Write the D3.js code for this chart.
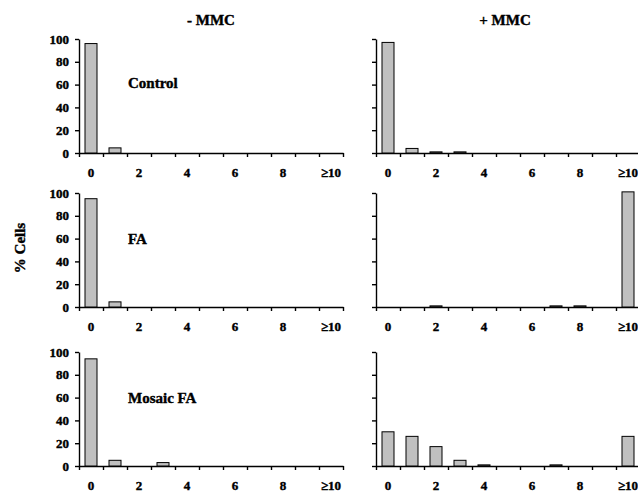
<!DOCTYPE html>
<html>
<head>
<meta charset="utf-8" />
<title>% Cells by aberrations, -MMC / +MMC</title>
<script src="https://cdn.jsdelivr.net/npm/d3@7"></script>
<style>
	body { margin: 0; background: #fff; }
	text { font-family: "Liberation Serif", "Times New Roman", serif; font-weight: bold; fill: #000; stroke: #000; stroke-width: 0.4; }
	.axis path, .axis line { stroke: #000; stroke-width: 1.4; }
	.bar { fill: #c0c0c0; stroke: #000; stroke-width: 1; }
</style>
</head>
<body>
<script>
// categorias del eje x
var categories = ["0", "1", "2", "3", "4", "5", "6", "7", "8", "9", "≥10"];
var tickLabels = ["0", "2", "4", "6", "8", "≥10"];
var yTicks = [0, 20, 40, 60, 80, 100];

var columnTitles = ["- MMC", "+ MMC"];
var rowLabels = ["Control", "FA", "Mosaic FA"];

// valores (% de celulas)
var controlMinus = [96, 4.5, 0, 0, 0, 0, 0, 0, 0, 0, 0];
var controlPlus  = [97, 4, 1, 1, 0, 0, 0, 0, 0, 0, 0];
var faMinus      = [95, 4.5, 0, 0, 0, 0, 0, 0, 0, 0, 0];
var faPlus       = [0, 0, 1, 0, 0, 0, 0, 1, 1, 0, 101];
var mosaicMinus  = [94, 5, 0, 3, 0, 0, 0, 0, 0, 0, 0];
var mosaicPlus   = [30, 26, 17, 5, 1, 0, 0, 1, 0, 0, 26];

var panels = [
	[controlMinus, controlPlus],
	[faMinus, faPlus],
	[mosaicMinus, mosaicPlus]
];

var svg = d3.select("body").append("svg")
	.attr("width", 638)
	.attr("height", 493);

var colX = [79, 376];
var rowY = [39, 193, 352];
var width = 264, height = 114;

// paso de 24px, barra centrada en cada intervalo
var x = d3.scaleBand().domain(categories).range([0, width])
	.paddingInner(0.5).paddingOuter(0.25);
var xEdges = d3.scaleLinear().domain([0, categories.length]).range([0, width]);
var y = d3.scaleLinear().domain([0, 100]).range([height, 0]);

// titulos de columna
columnTitles.forEach(function (t, c) {
	svg.append("text")
		.attr("x", c == 0 ? 211 : 505)
		.attr("y", 25)
		.attr("text-anchor", "middle")
		.style("font-size", "15px")
		.text(t);
});

// etiqueta eje y
svg.append("text")
	.attr("transform", "translate(25,248) rotate(-90)")
	.attr("text-anchor", "middle")
	.style("font-size", "15px")
	.text("% Cells");

panels.forEach(function (row, r) {
	row.forEach(function (values, c) {
		var g = svg.append("g")
			.attr("transform", "translate(" + colX[c] + "," + rowY[r] + ")");

		// eje y
		var yAxis = g.append("g").attr("class", "axis")
			.call(d3.axisLeft(y).tickValues(yTicks).tickSize(4).tickSizeOuter(0)
				.tickFormat(c == 0 ? d3.format("d") : ""));
		yAxis.selectAll("text").style("font-size", "13px").attr("x", -10);

		// marcas entre categorias
		g.append("g").attr("class", "axis")
			.attr("transform", "translate(0," + height + ")")
			.call(d3.axisBottom(xEdges).tickValues(d3.range(0, categories.length + 1))
				.tickSize(4).tickSizeOuter(0).tickFormat(""));

		// etiquetas de categorias
		g.append("g")
			.attr("transform", "translate(0," + height + ")")
			.call(d3.axisBottom(x).tickValues(tickLabels).tickSize(0))
			.call(function (a) { a.select(".domain").remove(); })
			.selectAll("text").style("font-size", "13px").attr("dy", "1.65em");

		// barras
		g.selectAll(".bar")
			.data(values.map(function (v, i) { return { cat: categories[i], v: v }; })
				.filter(function (d) { return d.v > 0; }))
			.enter().append("rect")
			.attr("class", "bar")
			.attr("x", function (d) { return x(d.cat); })
			.attr("width", x.bandwidth())
			.attr("y", function (d) { return y(d.v); })
			.attr("height", function (d) { return height - y(d.v); });

		if (c == 0) {
			g.append("text")
				.attr("x", 49)
				.attr("y", r == 0 ? 49 : 51)
				.style("font-size", "15px")
				.text(rowLabels[r]);
		}
	});
});
</script>
</body>
</html>
